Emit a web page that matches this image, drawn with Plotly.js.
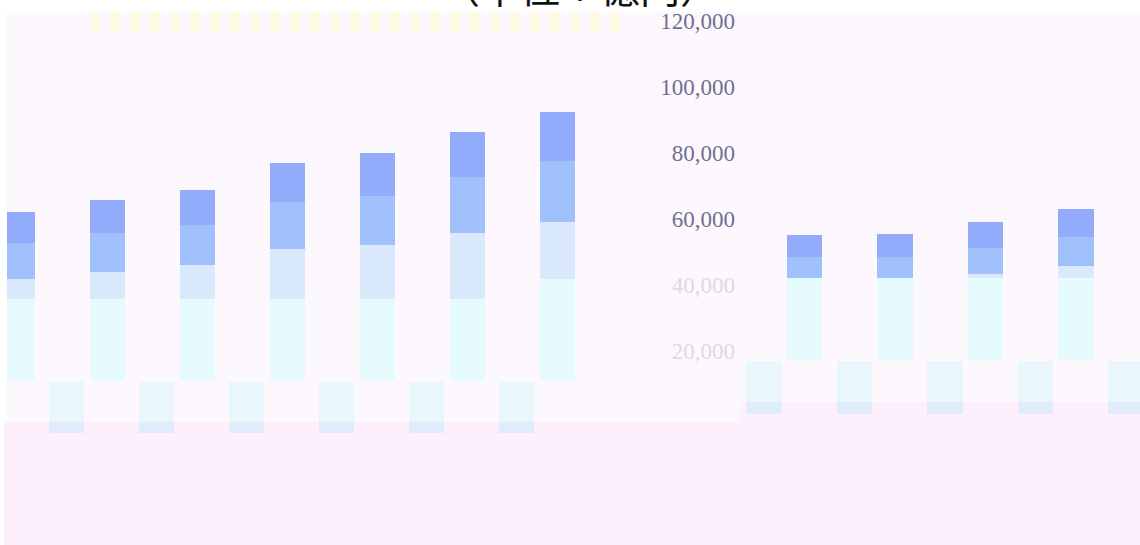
<!DOCTYPE html>
<html>
<head>
<meta charset="utf-8">
<script src="https://cdn.plot.ly/plotly-3.0.1.min.js"></script>
<style>html,body{margin:0;padding:0;background:#fff;}#chart{width:1140px;height:545px;}</style>
</head>
<body>
<div id="chart"></div>
<script>
// ---- data (億円) ----
const leftCats  = ['1', '2', '3', '4', '5', '6', '7'];
const rightCats = ['8', '9', '10', '11', '12'];

const baseLeft   = [41900, 41900, 41900, 41900, 41900, 41900, 48200];
const lightLeft  = [6150, 8270, 10300, 15390, 16360, 20000, 17180];
const mediumLeft = [10820, 11910, 12120, 14180, 14940, 17060, 18480];
const darkLeft   = [9480, 10000, 10790, 11820, 13120, 13550, 14760];

const baseRight   = [41900, 41900, 41900, 41900, 41900];
const lightRight  = [0, 0, 1300, 3640, null];
const mediumRight = [6450, 6450, 7790, 8790, null];
const darkRight   = [6670, 7060, 7970, 8480, null];

const tickMain  = [60000, 80000, 100000, 120000];
const tickFaint = [20000, 40000];
const titleText = '（単位：億円）';

// ---- styling ----
const C = {
  base: '#e6fbfe', light: '#dae9fc', medium: '#a1c1fc', dark: '#93abfb',
  piece: '#e9f7fd', pieceLow: '#e1ecfa'
};
const W = 1140, H = 545;
const py = p => 1 - p / H;   // pixel row -> paper y
const px = p => p / W;       // pixel col -> paper x
const split = px(740);

function bar(name, vals, cats, color, xa, ya) {
  return {type: 'bar', x: cats, y: vals, name: name, xaxis: xa, yaxis: ya,
    marker: {color: color, line: {width: 0}}, hoverinfo: 'skip', showlegend: false};
}

const traces = [
  bar('基礎', baseLeft, leftCats, C.base, 'x', 'y'),
  bar('区分2', lightLeft, leftCats, C.light, 'x', 'y'),
  bar('区分3', mediumLeft, leftCats, C.medium, 'x', 'y'),
  bar('区分4', darkLeft, leftCats, C.dark, 'x', 'y'),
  bar('基礎', baseRight, rightCats, C.base, 'x2', 'y2'),
  bar('区分2', lightRight, rightCats, C.light, 'x2', 'y2'),
  bar('区分3', mediumRight, rightCats, C.medium, 'x2', 'y2'),
  bar('区分4', darkRight, rightCats, C.dark, 'x2', 'y2'),
  // displaced lower strips
  bar('基礎', baseLeft, leftCats, C.piece, 'x3', 'y3'),
  bar('基礎', baseLeft, leftCats, C.pieceLow, 'x3', 'y7'),
  bar('基礎', baseRight, rightCats, C.piece, 'x4', 'y4'),
  bar('基礎', baseRight, rightCats, C.pieceLow, 'x4', 'y8'),
  // carriers for the label axes
  {type: 'scatter', x: [], y: [], xaxis: 'x2', yaxis: 'y5', showlegend: false},
  {type: 'scatter', x: [], y: [], xaxis: 'x2', yaxis: 'y6', showlegend: false}
];

const k = 0.0033; // px per unit
const hid = {showgrid: false, zeroline: false, showline: false, showticklabels: false, ticks: '', fixedrange: true};

const shapes = [
  {type: 'rect', xref: 'paper', yref: 'paper', x0: px(7), x1: 1, y0: 0, y1: py(12), fillcolor: '#fdf8fd', line: {width: 0}, layer: 'below'},
  {type: 'rect', xref: 'paper', yref: 'paper', x0: px(4), x1: split, y0: 0, y1: py(421.7), fillcolor: '#fdeffc', line: {width: 0}, layer: 'below'},
  {type: 'rect', xref: 'paper', yref: 'paper', x0: split, x1: 1, y0: 0, y1: py(401.7), fillcolor: '#fdeffc', line: {width: 0}, layer: 'below'},
  {type: 'rect', xref: 'paper', yref: 'paper', x0: 0, x1: px(7), y0: py(421.7), y1: 1, fillcolor: '#ffffff', line: {width: 0}, layer: 'above'}
];
for (let s = 90; s < 615; s += 20) {
  shapes.push({type: 'rect', xref: 'paper', yref: 'paper', x0: px(s), x1: px(s + 10), y0: py(31), y1: py(12),
    fillcolor: '#fffbe0', line: {width: 0}, layer: 'below'});
}

const yTop = 12;
const labelAxis = (vals, color) => ({overlaying: 'y2', anchor: 'free', position: px(735), side: 'left',
  range: [56.7 / k, 56.7 / k + (360 - yTop) / k], tickmode: 'array', tickvals: vals, tickformat: ',d',
  showgrid: false, zeroline: false, showline: false, ticks: '',
  tickfont: {family: 'Liberation Serif', size: 23, color: color}});

const layout = {
  width: W, height: H, autosize: false,
  margin: {l: 0, r: 0, t: 0, b: 0, pad: 0},
  paper_bgcolor: '#ffffff', plot_bgcolor: 'rgba(0,0,0,0)',
  barmode: 'stack', bargap: 0.611, showlegend: false,
  title: {text: titleText, x: 580 / W, xanchor: 'center', xref: 'paper', yref: 'container', y: py(3), yanchor: 'bottom',
    font: {family: 'Noto Sans CJK JP', size: 40, color: '#111111'}},
  xaxis:  Object.assign({}, hid, {type: 'category', domain: [0, split], range: [-0.1944, 8.0278], anchor: 'y'}),
  yaxis:  Object.assign({}, hid, {domain: [py(380.7), py(yTop)], range: [57 / k, 57 / k + (380.7 - yTop) / k], anchor: 'x'}),
  xaxis2: Object.assign({}, hid, {type: 'category', domain: [split, 1], range: [-0.7127, 3.7072], anchor: 'y2'}),
  yaxis2: Object.assign({}, hid, {domain: [py(360), py(yTop)], range: [56.7 / k, 56.7 / k + (360 - yTop) / k], anchor: 'x2'}),
  xaxis3: Object.assign({}, hid, {type: 'category', domain: [0, split], range: [0.2611, 8.4833], anchor: 'y3'}),
  yaxis3: Object.assign({}, hid, {domain: [py(421.7), py(381.7)], range: [11.3 / k, 51.3 / k], anchor: 'x3'}),
  yaxis7: Object.assign({}, hid, {domain: [py(433), py(421.7)], range: [0, 11.3 / k], anchor: 'x3'}),
  xaxis4: Object.assign({}, hid, {type: 'category', domain: [split, 1], range: [-0.2652, 4.1547], anchor: 'y4'}),
  yaxis4: Object.assign({}, hid, {domain: [py(401.7), py(361)], range: [12.3 / k, 53 / k], anchor: 'x4'}),
  yaxis8: Object.assign({}, hid, {domain: [py(414), py(401.7)], range: [0, 12.3 / k], anchor: 'x4'}),
  yaxis5: labelAxis(tickMain, '#716f90'),
  yaxis6: labelAxis(tickFaint, '#dcd9e6'),
  shapes: shapes
};

Plotly.newPlot('chart', traces, layout, {staticPlot: true, displayModeBar: false});
</script>
</body>
</html>
